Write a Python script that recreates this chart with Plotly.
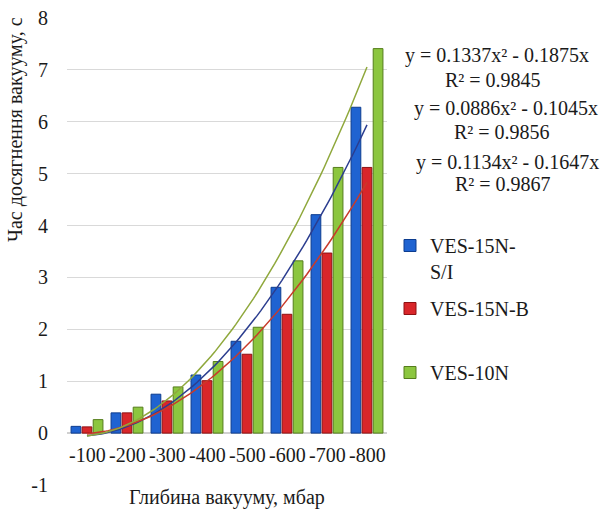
import plotly.graph_objects as go
import numpy as np

categories = ["-100", "-200", "-300", "-400", "-500", "-600", "-700", "-800"]
ves15n_si = [0.13, 0.39, 0.75, 1.12, 1.77, 2.81, 4.21, 6.28]
ves15n_b = [0.12, 0.39, 0.62, 1.01, 1.52, 2.29, 3.47, 5.12]
ves10n = [0.26, 0.50, 0.89, 1.38, 2.04, 3.32, 5.12, 7.41]

# trendline coefficients as printed on the chart: y = a*x^2 + b*x
trend_10n = [0.1337, -0.1875]
trend_15n_b = [0.0886, -0.1045]
trend_15n_si = [0.1134, -0.1647]
eq_lines = [
    "y = 0.1337x² - 0.1875x", "R² = 0.9845",
    "y = 0.0886x² - 0.1045x", "R² = 0.9856",
    "y = 0.1134x² - 0.1647x", "R² = 0.9867",
]
y_ticks = [-1, 0, 1, 2, 3, 4, 5, 6, 7, 8]
y_ticktext = ["-1", "0", "1", "2", "3", "4", "5", "6", "7", "8"]

FONT = "Liberation Serif"
FS = 20
TXT = "#1a1a1a"
L, R, T, B, W, H = 67, 223, 18, 26, 610, 511
pw, ph = W - L - R, H - T - B


def px_x(x):
    return (x - L) / pw


def px_y(y):
    return (H - B - y) / ph


fig = go.Figure()

series = [
    ("VES-15N-<br>S/I", ves15n_si, "#1f63d1", "#0d3c8f", "legend", 226),
    ("VES-15N-B", ves15n_b, "#d9262a", "#8f1113", "legend2", 289),
    ("VES-10N", ves10n, "#8cc63f", "#557d1c", "legend3", 353),
]
legend_layout = {}
for i, (name, vals, col, edge, lg, ly) in enumerate(series):
    fig.add_trace(go.Bar(
        x=list(range(len(categories))), y=vals, name=name,
        marker=dict(color=col, line=dict(color=edge, width=1)),
        legend=lg,
    ))
    legend_layout[lg] = dict(
        x=px_x(390), y=px_y(ly), xanchor="left", yanchor="top", valign="top",
        font=dict(family=FONT, size=FS, color=TXT), itemwidth=30,
        bgcolor="rgba(0,0,0,0)", borderwidth=0,
    )

xs = np.linspace(1, len(categories), 80)
for coef, col in [(trend_15n_si, "#2b3d8f"), (trend_15n_b, "#c83a2a"), (trend_10n, "#8fa83c")]:
    fig.add_trace(go.Scatter(
        x=xs - 1, y=coef[0] * xs ** 2 + coef[1] * xs, mode="lines",
        line=dict(color=col, width=1.5), showlegend=False, hoverinfo="skip",
    ))

for ci, cat in enumerate(categories):
    fig.add_annotation(x=ci, y=-0.42, xref="x", yref="y", text=cat, showarrow=False,
                       xanchor="center", yanchor="middle",
                       font=dict(family=FONT, size=FS, color=TXT))

eq_pos = [(497, 55), (493, 80), (506, 108), (502, 132), (507, 162), (503, 184)]
for (px, py), t in zip(eq_pos, eq_lines):
    fig.add_annotation(x=px_x(px), y=px_y(py), xref="paper", yref="paper", text=t,
                       showarrow=False, xanchor="center", yanchor="middle",
                       font=dict(family=FONT, size=FS, color=TXT))

fig.add_annotation(x=px_x(15), y=px_y(130), xref="paper", yref="paper",
                   text="Час досягнення вакууму, с", textangle=-90, showarrow=False,
                   xanchor="center", yanchor="middle",
                   font=dict(family=FONT, size=FS, color=TXT))
fig.add_annotation(x=px_x(227), y=px_y(497), xref="paper", yref="paper",
                   text="Глибина вакууму, мбар", showarrow=False,
                   xanchor="center", yanchor="middle",
                   font=dict(family=FONT, size=FS, color=TXT))

fig.update_layout(
    width=W, height=H,
    margin=dict(l=L, r=R, t=T, b=B, autoexpand=False),
    plot_bgcolor="white", paper_bgcolor="white",
    barmode="group", bargap=0.17, bargroupgap=0.12,
    font=dict(family=FONT, size=FS, color=TXT),
    showlegend=True,
    xaxis=dict(range=[-0.5, len(categories) - 0.5], showticklabels=False,
               showgrid=False, zeroline=False, showline=False, ticks=""),
    yaxis=dict(range=[-1, 8], tickvals=y_ticks, ticktext=y_ticktext, showgrid=True,
               gridcolor="#d9d9d9", gridwidth=1, zeroline=True, zerolinecolor="#d0d0d0",
               zerolinewidth=1.5, tickfont=dict(family=FONT, size=FS, color=TXT),
               ticklabelstandoff=18, showline=False),
    **legend_layout,
)

fig.write_html("out.html", config={"displayModeBar": False},
               post_script="document.body.style.margin='0';")
